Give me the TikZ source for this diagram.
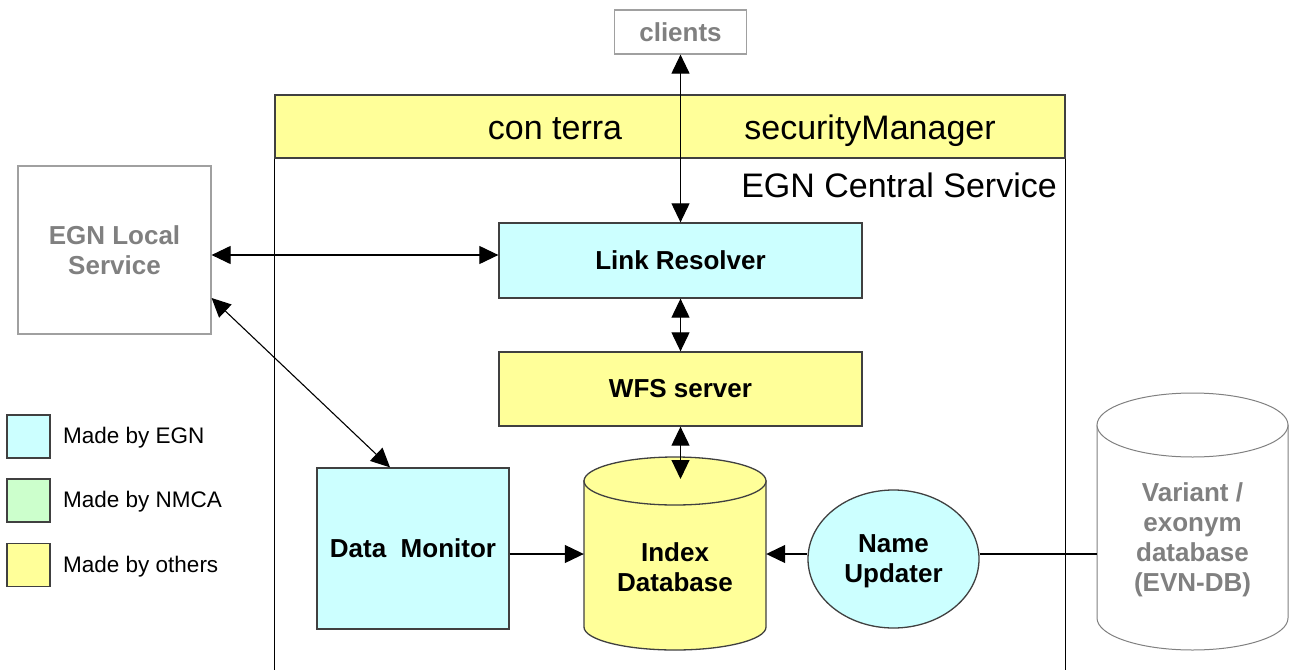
\documentclass[tikz,border=0pt]{standalone}
\usepackage{fontspec}
\setmainfont{Liberation Sans}
\usetikzlibrary{arrows.meta,shapes.geometric}

\definecolor{egncyan}{HTML}{CCFFFF}
\definecolor{nmcagreen}{HTML}{CCFFCC}
\definecolor{otheryellow}{HTML}{FFFF99}
\definecolor{extgray}{HTML}{808080}
\definecolor{extline}{HTML}{A0A0A0}
\definecolor{boxline}{HTML}{404040}

\tikzset{
  boxstyle/.style={draw=boxline, line width=1.3pt, rectangle, inner sep=0pt,
    align=center, font=\fontsize{26}{30}\selectfont\bfseries},
  extbox/.style={draw=extline, line width=1.2pt, rectangle, inner sep=0pt,
    align=center, text=extgray, font=\fontsize{26}{30}\selectfont\bfseries},
  bandtext/.style={font=\fontsize{34}{38}\selectfont, inner sep=0pt},
  legendbox/.style={draw=boxline, line width=1.3pt, minimum width=43pt,
    minimum height=43pt, inner sep=0pt},
  legendtext/.style={font=\fontsize{22.5}{26}\selectfont, inner sep=0pt, anchor=base west},
  tip/.tip={Triangle[length=19pt,width=18pt]},
  biarrow/.style={line width=1.1pt, {tip}-{tip}},
  onearrow/.style={line width=1.1pt, -{tip}},
  plainline/.style={line width=1.1pt},
}

\begin{document}
\begin{tikzpicture}[x=1pt,y=-1pt]
\useasboundingbox (0,0) rectangle (1289,669);

% central service frame with the security band on top
\node[draw=boxline, line width=1.3pt, fill=otheryellow, minimum width=790pt,
      minimum height=63pt, inner sep=0pt] (band) at (670,126.5) {};
\draw[line width=1.4pt, black] (band.south west) -- ++(0,511);
\draw[line width=1.4pt, black] (band.south east) -- ++(0,511);
\node[bandtext, anchor=base] (conterra) at (555,139) {con terra};
\node[bandtext, anchor=base] (secman) at (870,139) {securityManager};
\node[bandtext, anchor=base east] (central) at (1057,197) {EGN Central Service};

% external systems
\node[extbox, minimum width=132pt, minimum height=44pt] (clients) at (680.5,32) {clients};
\node[extbox, minimum width=193pt, minimum height=168pt] (local) at (114.5,250) {EGN Local\\Service};

% evn database cylinder
\path[fill=white, draw=extgray, line width=1pt]
  (1097,425) -- (1097,618) arc[start angle=180, end angle=0, x radius=95.5, y radius=32]
  -- (1288,425) -- cycle;
\draw[fill=white, draw=extgray, line width=1pt] (1192.5,425) ellipse[x radius=95.5, y radius=32];
\node[align=center, inner sep=0pt, minimum width=191pt, text=extgray,
      font=\fontsize{26}{30}\selectfont\bfseries] (evn) at (1192.5,540)
  {Variant /\\exonym\\database\\(EVN-DB)};

% components of the central service
\node[boxstyle, fill=egncyan, minimum width=363pt, minimum height=75pt] (lr) at (680.5,260.5) {Link Resolver};
\node[boxstyle, fill=otheryellow, minimum width=363pt, minimum height=74pt] (wfs) at (680.5,389) {WFS server};
\node[boxstyle, fill=egncyan, minimum width=192pt, minimum height=161pt] (dm) at (413,548.5) {Data\ \ Monitor};
\node[boxstyle, ellipse, fill=egncyan, minimum width=171pt, minimum height=138pt,
      text depth=0pt] (nu) at (893.5,559) {Name\\Updater};

% index database cylinder
\path[fill=otheryellow, draw=boxline, line width=1.3pt]
  (584,481) -- (584,627) arc[start angle=180, end angle=0, x radius=91, y radius=23]
  -- (766,481) -- cycle;
\draw[fill=otheryellow, draw=boxline, line width=1.3pt] (675,481) ellipse[x radius=91, y radius=24];
\node[align=center, inner sep=0pt, minimum width=182pt, minimum height=220pt,
      font=\fontsize{26}{30}\selectfont\bfseries] (db) at (675,567) {Index\\Database};
\coordinate (dbtop) at (681,479);

% connectors
\coordinate (lrow) at (0,255);
\coordinate (drow) at (0,554);
\draw[biarrow] (clients.south) -- (lr.north);
\draw[biarrow] (local.east |- lrow) -- (lr.west |- lrow);
\draw[biarrow] (lr.south) -- (wfs.north);
\draw[biarrow] (wfs.south) -- (wfs.south |- dbtop);
\draw[biarrow] ([yshift=-48pt]local.east) -- ([xshift=-23pt]dm.north);
\draw[onearrow] (dm.east |- drow) -- (db.west |- drow);
\draw[onearrow] (nu.west |- drow) -- (db.east |- drow);
\draw[plainline] (nu.east |- drow) -- (evn.west |- drow);

% legend
\node[legendbox, fill=egncyan] (leg1) at (28.5,436.5) {};
\node[legendbox, fill=nmcagreen] (leg2) at (28.5,500.5) {};
\node[legendbox, fill=otheryellow] (leg3) at (28.5,565) {};
\node[legendtext] (leg1t) at (63,443) {Made by EGN};
\node[legendtext] (leg2t) at (63,507) {Made by NMCA};
\node[legendtext] (leg3t) at (63,572) {Made by others};
\end{tikzpicture}
\end{document}
